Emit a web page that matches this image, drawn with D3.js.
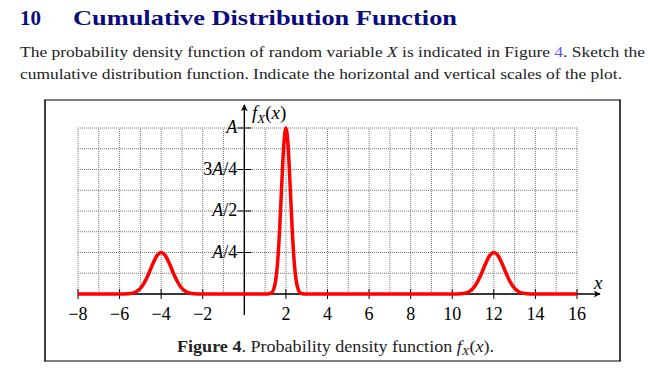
<!DOCTYPE html>
<html>
<head>
<meta charset="utf-8">
<script src="https://cdn.jsdelivr.net/npm/d3@7"></script>
<style>
  body { margin: 0; background: #fff; }
</style>
</head>
<body>
<div id="chart"></div>
<script>
// tick values and labels
const xTicks = [-8, -6, -4, -2, 2, 4, 6, 8, 10, 12, 14, 16];
const yTicks = [0.25, 0.5, 0.75, 1];
const yTickLabels = ["A/4", "A/2", "3A/4", "A"];

// f_X(x) (y in units of A)
const pdfX = [-8, -6.0, -5.6, -5.4, -5.2, -5.0, -4.8, -4.6, -4.4, -4.2, -4.0, -3.8, -3.6, -3.4, -3.2, -3.0, -2.8, -2.6, -2.4, -2.0,
              1.1, 1.3, 1.4, 1.5, 1.6, 1.7, 1.8, 1.9, 2.0, 2.1, 2.2, 2.3, 2.4, 2.5, 2.6, 2.7, 2.9,
              10.0, 10.4, 10.6, 10.8, 11.0, 11.2, 11.4, 11.6, 11.8, 12.0, 12.2, 12.4, 12.6, 12.8, 13.0, 13.2, 13.4, 13.6, 14.0, 16];
const pdfY = [0, 0, 0.0015, 0.005, 0.014, 0.034, 0.070, 0.122, 0.182, 0.231, 0.25, 0.231, 0.182, 0.122, 0.070, 0.034, 0.014, 0.005, 0.0015, 0,
              0, 0.006, 0.024, 0.076, 0.191, 0.395, 0.661, 0.902, 1, 0.902, 0.661, 0.395, 0.191, 0.076, 0.024, 0.006, 0,
              0, 0.0015, 0.005, 0.014, 0.034, 0.070, 0.122, 0.182, 0.231, 0.25, 0.231, 0.182, 0.122, 0.070, 0.034, 0.014, 0.005, 0.0015, 0, 0];

const gridX = d3.range(-8, 17, 1);
const gridY = d3.range(0, 9).map(k => k / 8);

const width = 669, height = 377;
const serif = "'Liberation Serif', 'Times New Roman', serif";

const svg = d3.select("#chart")
  .append("svg")
  .attr("width", width)
  .attr("height", height)
  .attr("font-family", serif);

/* heading */
const head = svg.append("g").attr("fill", "#0b0b80").attr("font-weight", "bold").attr("font-size", 21);
head.append("text").attr("x", 20).attr("y", 25).text("10");
head.append("text").attr("x", 73).attr("y", 25)
  .attr("textLength", 384).attr("lengthAdjust", "spacingAndGlyphs")
  .text("Cumulative Distribution Function");

/* paragraph */
const p1 = svg.append("text").attr("x", 20).attr("y", 57).attr("font-size", 15).attr("fill", "#222")
  .attr("textLength", 625).attr("lengthAdjust", "spacingAndGlyphs");
p1.append("tspan").text("The probability density function of random variable ");
p1.append("tspan").attr("font-style", "italic").text("X");
p1.append("tspan").text(" is indicated in Figure ");
p1.append("tspan").attr("fill", "#5555ee").text("4");
p1.append("tspan").text(". Sketch the");

svg.append("text").attr("x", 20).attr("y", 79).attr("font-size", 15).attr("fill", "#222")
  .attr("textLength", 602).attr("lengthAdjust", "spacingAndGlyphs")
  .text("cumulative distribution function. Indicate the horizontal and vertical scales of the plot.");

/* figure frame */
const frame = svg.append("g");
frame.append("line").attr("x1", 44).attr("x2", 621).attr("y1", 100).attr("y2", 100).attr("stroke", "#808080").attr("stroke-width", 2);
frame.append("line").attr("x1", 44).attr("x2", 621).attr("y1", 361).attr("y2", 361).attr("stroke", "#808080").attr("stroke-width", 2);
frame.append("line").attr("x1", 45).attr("x2", 45).attr("y1", 100).attr("y2", 361).attr("stroke", "#000").attr("stroke-width", 1.5);
frame.append("line").attr("x1", 620).attr("x2", 620).attr("y1", 100).attr("y2", 361).attr("stroke", "#000").attr("stroke-width", 1.5);

/* scales */
const x = d3.scaleLinear().domain([-8, 16]).range([78, 577]);
const y = d3.scaleLinear().domain([0, 1]).range([294, 128]);

/* grid */
const grid = svg.append("g");
grid.selectAll(".gx").data(gridX).join("line")
  .attr("x1", d => x(d)).attr("x2", d => x(d))
  .attr("y1", y(0)).attr("y2", y(1))
  .attr("stroke", "#777").attr("stroke-width", 1).attr("stroke-dasharray", "1,1");
grid.selectAll(".gy").data(gridY).join("line")
  .attr("x1", x(-8)).attr("x2", x(16))
  .attr("y1", d => y(d)).attr("y2", d => y(d))
  .attr("stroke", "#777").attr("stroke-width", 1).attr("stroke-dasharray", "1,1");

/* arrow marker */
svg.append("defs").append("marker")
  .attr("id", "arr").attr("viewBox", "0 0 10 10")
  .attr("refX", 9).attr("refY", 5)
  .attr("markerWidth", 7).attr("markerHeight", 7)
  .attr("markerUnits", "userSpaceOnUse")
  .attr("orient", "auto")
  .append("path").attr("d", "M0,0 L10,5 L0,10 L3,5 Z").attr("fill", "#000");

/* axes */
const axes = svg.append("g");
axes.append("line").attr("x1", x(-8)).attr("x2", 600).attr("y1", y(0)).attr("y2", y(0))
  .attr("stroke", "#000").attr("stroke-width", 1.4).attr("marker-end", "url(#arr)");
axes.append("line").attr("x1", x(0)).attr("x2", x(0)).attr("y1", 315).attr("y2", 105)
  .attr("stroke", "#000").attr("stroke-width", 1.4).attr("marker-end", "url(#arr)");

axes.selectAll(".xt").data(xTicks).join("line")
  .attr("x1", d => x(d)).attr("x2", d => x(d))
  .attr("y1", y(0) - 5).attr("y2", y(0) + 5)
  .attr("stroke", "#000").attr("stroke-width", 1);
axes.selectAll(".xl").data(xTicks).join("text")
  .attr("x", d => x(d)).attr("y", 320)
  .attr("text-anchor", "middle").attr("font-size", 18)
  .text(d => d < 0 ? "\u2212" + Math.abs(d) : d);

axes.selectAll(".yt").data(yTicks).join("line")
  .attr("x1", x(0) - 7).attr("x2", x(0) + 7)
  .attr("y1", d => y(d)).attr("y2", d => y(d))
  .attr("stroke", "#000").attr("stroke-width", 1);
const yl = axes.selectAll(".yl").data(yTicks).join("text")
  .attr("x", x(0) - 7).attr("y", d => y(d) + 5)
  .attr("text-anchor", "end").attr("font-size", 18);
yl.each(function (d, i) {
  const parts = yTickLabels[i].split(/(A)/).filter(s => s.length);
  const t = d3.select(this);
  parts.forEach(s => t.append("tspan").attr("font-style", s === "A" ? "italic" : "normal").text(s));
});

/* axis labels */
const fl = axes.append("text").attr("x", 252).attr("y", 119).attr("font-size", 19);
fl.append("tspan").attr("font-style", "italic").text("f");
fl.append("tspan").attr("font-style", "italic").attr("font-size", 13).attr("dy", 4).text("X");
fl.append("tspan").attr("dy", -4).text("(");
fl.append("tspan").attr("font-style", "italic").text("x");
fl.append("tspan").text(")");
axes.append("text").attr("x", 594).attr("y", 289).attr("font-size", 19).attr("font-style", "italic").text("x");

/* pdf curve */
const line = d3.line()
  .x((d, i) => x(pdfX[i]))
  .y((d, i) => y(pdfY[i]))
  .curve(d3.curveMonotoneX);
svg.append("path")
  .datum(pdfY)
  .attr("d", line)
  .attr("fill", "none")
  .attr("stroke", "#ff0000")
  .attr("stroke-width", 3.5)
  .attr("stroke-linejoin", "round");

/* caption */
const cap = svg.append("text").attr("x", 177).attr("y", 352)
  .attr("font-size", 16).attr("fill", "#222")
  .attr("textLength", 317).attr("lengthAdjust", "spacingAndGlyphs");
cap.append("tspan").attr("font-weight", "bold").text("Figure 4");
cap.append("tspan").text(". Probability density function ");
cap.append("tspan").attr("font-style", "italic").text("f");
cap.append("tspan").attr("font-style", "italic").attr("font-size", 11).attr("dy", 3).text("X");
cap.append("tspan").attr("dy", -3).text("(");
cap.append("tspan").attr("font-style", "italic").text("x");
cap.append("tspan").text(").");
</script>
</body>
</html>
